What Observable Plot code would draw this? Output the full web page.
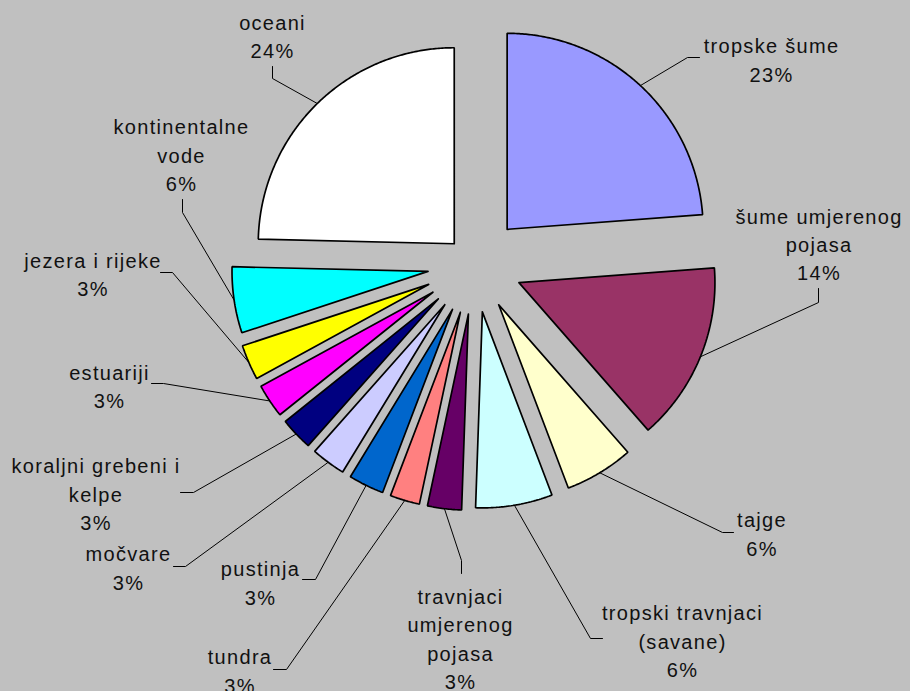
<!DOCTYPE html>
<html>
<head>
<meta charset="utf-8">
<script src="https://cdn.jsdelivr.net/npm/d3@7"></script>
<script src="https://cdn.jsdelivr.net/npm/@observablehq/plot@0.6"></script>
<style>
  html, body { margin: 0; padding: 0; background: #c0c0c0; }
  #chart svg text { letter-spacing: 1.3px; }
</style>
</head>
<body>
<div id="chart"></div>
<script>
// ---- data (clockwise from 12 o'clock) ----
const categories = [
  "tropske šume",
  "šume umjerenog\npojasa",
  "tajge",
  "tropski travnjaci\n(savane)",
  "travnjaci\numjerenog\npojasa",
  "tundra",
  "pustinja",
  "močvare",
  "koraljni grebeni i\nkelpe",
  "estuariji",
  "jezera i rijeke",
  "kontinentalne\nvode",
  "oceani"
];
// slice shares as drawn in the picture
const shares = [23.8, 14.75, 5.67, 6.33, 2.8, 2.45, 2.92, 2.83, 2.7, 2.78, 2.9, 5.45, 24.62];
// percentages printed in the labels
const percents = [23, 14, 6, 6, 3, 3, 3, 3, 3, 3, 3, 6, 24];

// ---- styles / layout ----
const colors = ["#9999ff", "#993366", "#ffffcc", "#ccffff", "#660066", "#ff8080",
                "#0066cc", "#ccccff", "#000080", "#ff00ff", "#ffff00", "#00ffff", "#ffffff"];
const R = 196;                       // pie radius (scale units)
const explode = [48, 48, 47, 48, 50, 50, 50, 50, 50, 50, 50, 47, 29];
// label block centres relative to the pie centre
const labelPos = [[297,-206],[344.5,-21.5],[287.5,268],[208,375],[-14,373],[-234.5,405],
                  [-214,317],[-346,302],[-378.5,228],[-365,120.5],[-381.5,8.5],[-293,-111],[-202,-229.5]];
// leader-line elbows and ends relative to the pie centre
const leaderElbow = [[213,-207],[344,38],[248,268],[116,374],[-13,296],[-188,405],
                     [-159,315],[-289,302],[-281,228],[-311,119],[-302,8],[-292,-52],[-202,-186]];
const leaderEnd = [[225,-207],[344,24],[259,268],[128,374],[-13,309],[-201,405],
                   [-172,315],[-301,302],[-294,228],[-323,119],[-314,8],[-292,-65],[-202,-198]];

// ---- geometry ----
const total = d3.sum(shares);
let acc = 0;
const slices = categories.map((name, i) => {
  const a0 = acc / total * 2 * Math.PI;
  acc += shares[i];
  const a1 = acc / total * 2 * Math.PI;
  const mid = (a0 + a1) / 2;
  return {i, name, a0, a1, mid,
          ox: explode[i] * Math.sin(mid), oy: -explode[i] * Math.cos(mid)};
});

const outline = slices.flatMap(s => {
  const n = Math.max(4, Math.ceil((s.a1 - s.a0) / (Math.PI / 360)));
  const pts = [{k: s.i, x: s.ox, y: s.oy, c: colors[s.i]}];
  for (let j = 0; j <= n; j++) {
    const a = s.a0 + (s.a1 - s.a0) * j / n;
    pts.push({k: s.i, x: s.ox + R * Math.sin(a), y: s.oy - R * Math.cos(a), c: colors[s.i]});
  }
  pts.push({k: s.i, x: s.ox, y: s.oy, c: colors[s.i]});
  return pts;
});

const leaders = slices.flatMap(s => [
  {k: s.i, x: s.ox + R * Math.sin(s.mid), y: s.oy - R * Math.cos(s.mid)},
  {k: s.i, x: leaderElbow[s.i][0], y: leaderElbow[s.i][1]},
  {k: s.i, x: leaderEnd[s.i][0], y: leaderEnd[s.i][1]}
]);

const labels = slices.map(s => ({
  x: labelPos[s.i][0], y: labelPos[s.i][1],
  text: s.name + "\n" + percents[s.i] + "%"
}));

const chart = Plot.plot({
  width: 910,
  height: 691,
  margin: 0,
  style: {background: "#c0c0c0", fontFamily: "'Liberation Sans', Arial, sans-serif"},
  x: {domain: [-474, 436], range: [0, 910], axis: null},
  y: {domain: [-264, 427], range: [0, 691], axis: null},
  color: {type: "identity"},
  marks: [
    Plot.line(leaders, {x: "x", y: "y", z: "k", stroke: "black", strokeWidth: 1, curve: "linear"}),
    Plot.line(outline, {x: "x", y: "y", z: "k", fill: "c", stroke: "black",
                        strokeWidth: 1.7, strokeLinejoin: "miter", curve: "linear"}),
    Plot.text(labels, {x: "x", y: "y", text: "text", fontSize: 20, lineHeight: 1.42,
                       fill: "#111", textAnchor: "middle", lineAnchor: "middle"})
  ]
});
document.getElementById("chart").appendChild(chart);
</script>
</body>
</html>
